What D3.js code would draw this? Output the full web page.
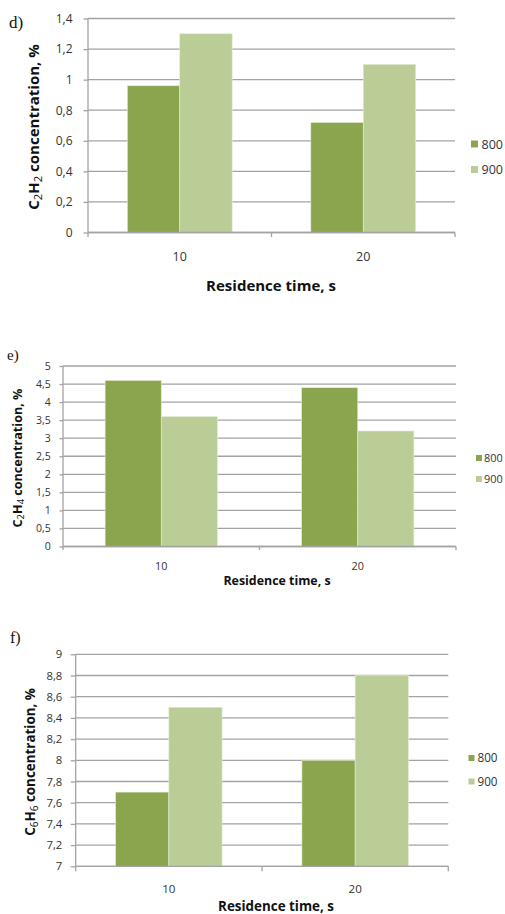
<!DOCTYPE html>
<html>
<head>
<meta charset="utf-8">
<script src="https://cdn.jsdelivr.net/npm/d3@7"></script>
<style>
  html, body { margin: 0; padding: 0; background: #fff; }
  svg { display: block; }
</style>
</head>
<body>
<script>
// Residence time categories and furnace temperature series
const categories = ["10", "20"];
const seriesNames = ["800", "900"];

// C2H2 concentration, %
const c2h2_800 = [0.96, 0.72];
const c2h2_900 = [1.3, 1.1];
const c2h2Ticks = [0, 0.2, 0.4, 0.6, 0.8, 1, 1.2, 1.4];

// C2H4 concentration, %
const c2h4_800 = [4.6, 4.4];
const c2h4_900 = [3.6, 3.2];
const c2h4Ticks = [0, 0.5, 1, 1.5, 2, 2.5, 3, 3.5, 4, 4.5, 5];

// C6H6 concentration, %
const c6h6_800 = [7.7, 8.0];
const c6h6_900 = [8.5, 8.8];
const c6h6Ticks = [7, 7.2, 7.4, 7.6, 7.8, 8, 8.2, 8.4, 8.6, 8.8, 9];

const colors = { "800": "#8aa54e", "900": "#bacd97" };
const FONT = "'Open Sans', Lato, sans-serif";

const svg = d3.select("body").append("svg")
  .attr("width", 505).attr("height", 914);

const commaFmt = v => String(+v.toFixed(2)).replace(".", ",");

function panel(cfg) {
  const g = svg.append("g");
  const { left, right, top, bottom } = cfg.plot;

  const y = d3.scaleLinear().domain(cfg.domain).range([bottom, top]);
  const x0 = d3.scaleBand().domain(categories).range([left, right]).padding(0);
  const x1 = d3.scaleBand().domain(seriesNames)
    .range([0, x0.bandwidth()]).paddingInner(0).paddingOuter(0.75);

  // horizontal gridlines
  g.append("g").selectAll("line").data(cfg.ticks).join("line")
    .attr("x1", left).attr("x2", right)
    .attr("y1", d => y(d)).attr("y2", d => y(d))
    .attr("stroke", "#a3a3a3").attr("stroke-width", 1.3);

  // bars
  const rows = categories.map((c, i) => ({ cat: c, vals: [cfg.s800[i], cfg.s900[i]] }));
  g.append("g").selectAll("g").data(rows).join("g")
    .attr("transform", d => `translate(${x0(d.cat)},0)`)
    .selectAll("rect").data(d => d.vals.map((v, j) => ({ name: seriesNames[j], v })))
    .join("rect")
      .attr("x", d => x1(d.name))
      .attr("width", x1.bandwidth())
      .attr("y", d => y(d.v))
      .attr("height", d => y(cfg.domain[0]) - y(d.v))
      .attr("fill", d => colors[d.name])
      .attr("stroke", "#e4ecd6").attr("stroke-width", 0.6);

  // y axis
  const yAxis = d3.axisLeft(y).tickValues(cfg.ticks).tickSize(cfg.tickLen)
    .tickPadding(cfg.tickPad).tickFormat(commaFmt);
  const ya = g.append("g").attr("transform", `translate(${left},0)`).call(yAxis);
  ya.select(".domain").attr("stroke", "#a3a3a3").attr("stroke-width", 1.3)
    .attr("d", `M0,${top}V${bottom}`);
  ya.selectAll(".tick line").attr("stroke", "#a3a3a3").attr("stroke-width", 1.3);
  ya.selectAll(".tick text").attr("fill", "#333").style("font", `${cfg.tickFont}px ${FONT}`);

  // x axis with boundary ticks between categories
  const xa = g.append("g");
  xa.append("line").attr("x1", left).attr("x2", right)
    .attr("y1", bottom).attr("y2", bottom)
    .attr("stroke", "#a3a3a3").attr("stroke-width", 1.3);
  const bounds = [left, ...categories.slice(1).map(c => x0(c)), right];
  xa.selectAll("line.tk").data(bounds).join("line").attr("class", "tk")
    .attr("x1", d => d).attr("x2", d => d)
    .attr("y1", bottom).attr("y2", bottom + cfg.tickLen)
    .attr("stroke", "#a3a3a3").attr("stroke-width", 1.3);
  xa.selectAll("text").data(categories).join("text")
    .attr("x", d => x0(d) + x0.bandwidth() / 2)
    .attr("y", cfg.catY)
    .attr("text-anchor", "middle").attr("fill", "#333")
    .style("font", `${cfg.catFont}px ${FONT}`)
    .text(d => d);

  // axis titles
  g.append("text").attr("x", cfg.xTitle[0]).attr("y", cfg.xTitle[1])
    .attr("text-anchor", "middle").attr("fill", "#111")
    .style("font", `bold ${cfg.titleFont}px ${FONT}`)
    .text("Residence time, s");

  const yt = g.append("text")
    .attr("transform", `translate(${cfg.yTitle[0]},${cfg.yTitle[1]}) rotate(-90)`)
    .attr("text-anchor", "middle").attr("fill", "#111")
    .style("font", `bold ${cfg.yTitleFont}px ${FONT}`);
  cfg.formula.forEach(([t, sub]) => {
    yt.append("tspan").text(t);
    if (sub) yt.append("tspan").attr("baseline-shift", "-25%")
      .style("font-size", `${cfg.yTitleFont * 0.75}px`).style("font-weight", "normal").text(sub);
  });
  yt.append("tspan").text(" concentration, %");

  // legend
  const lg = g.append("g");
  seriesNames.forEach((s, i) => {
    const ly = cfg.legend.y + i * cfg.legend.dy;
    lg.append("rect").attr("x", cfg.legend.x).attr("y", ly - cfg.legend.sq)
      .attr("width", cfg.legend.sq).attr("height", cfg.legend.sq).attr("fill", colors[s]);
    lg.append("text").attr("x", cfg.legend.x + cfg.legend.sq + cfg.legend.gap).attr("y", ly + 1)
      .attr("fill", "#333").style("font", `${cfg.legend.font}px ${FONT}`).text(s);
  });

  // panel letter
  g.append("text").attr("x", cfg.letter[0]).attr("y", cfg.letter[1])
    .attr("fill", "#111")
    .style("font", `${cfg.letter[2]}px 'Liberation Serif', 'DejaVu Serif', serif`)
    .text(cfg.letter[3]);
}

panel({
  plot: { left: 88, right: 455, top: 18.5, bottom: 232.5 },
  domain: [0, 1.4], ticks: c2h2Ticks, s800: c2h2_800, s900: c2h2_900,
  tickLen: 4.5, tickPad: 11, tickFont: 12, catFont: 12.5, catY: 260.5,
  titleFont: 15, xTitle: [271, 291],
  yTitleFont: 15, yTitle: [39, 127], formula: [["C", "2"], ["H", "2"]],
  legend: { x: 471, y: 147.5, dy: 25.5, sq: 7, gap: 3.5, font: 12.5 },
  letter: [9, 28, 17, "d)"]
});

panel({
  plot: { left: 63, right: 456, top: 366, bottom: 546.5 },
  domain: [0, 5], ticks: c2h4Ticks, s800: c2h4_800, s900: c2h4_900,
  tickLen: 3.5, tickPad: 8.8, tickFont: 10.5, catFont: 10.8, catY: 570,
  titleFont: 12.4, xTitle: [277, 585],
  yTitleFont: 12.6, yTitle: [21.5, 458], formula: [["C", "2"], ["H", "4"]],
  legend: { x: 476, y: 461, dy: 21, sq: 6, gap: 2, font: 10.9 },
  letter: [7, 360, 15, "e)"]
});

panel({
  plot: { left: 75.7, right: 448.3, top: 654.3, bottom: 866.3 },
  domain: [7, 9], ticks: c6h6Ticks, s800: c6h6_800, s900: c6h6_900,
  tickLen: 5, tickPad: 8.4, tickFont: 11.3, catFont: 11.6, catY: 892.5,
  titleFont: 13.4, xTitle: [276, 911],
  yTitleFont: 13.4, yTitle: [34.5, 762], formula: [["C", "6"], ["H", "6"]],
  legend: { x: 468.5, y: 761, dy: 23.5, sq: 6, gap: 3, font: 11.7 },
  letter: [10, 643, 16, "f)"]
});
</script>
</body>
</html>
